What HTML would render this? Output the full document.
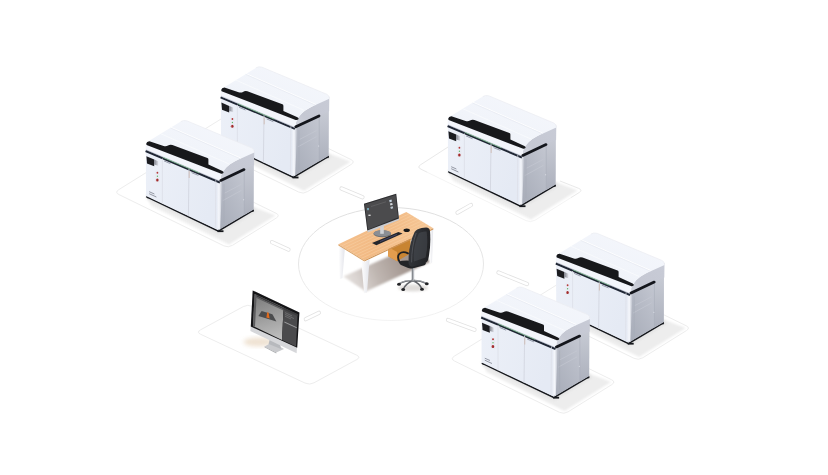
<!DOCTYPE html>
<html lang="en"><head><meta charset="utf-8"><title>Workstation and 3D printer fleet</title>
<style>
html,body{margin:0;padding:0;background:#fff;font-family:"Liberation Sans",sans-serif}
body{width:828px;height:475px;overflow:hidden}
svg{display:block}
</style></head><body>
<svg width="828" height="475" viewBox="0 0 828 475" role="img" aria-label="Isometric workstation connected to five 3D printers and a computer">
<defs>
<filter id="b3" x="-20%" y="-20%" width="140%" height="140%"><feGaussianBlur stdDeviation="2.2"/></filter>
<filter id="b07" x="-10%" y="-10%" width="120%" height="120%"><feGaussianBlur stdDeviation="0.7"/></filter>
<filter id="b1" x="-20%" y="-20%" width="140%" height="140%"><feGaussianBlur stdDeviation="1"/></filter>
<filter id="b5" x="-30%" y="-30%" width="160%" height="160%"><feGaussianBlur stdDeviation="3.5"/></filter>
<linearGradient id="gf" x1="0" y1="0" x2="1" y2="0.3"><stop offset="0" stop-color="#ecf0f8"/><stop offset="1" stop-color="#e5eaf4"/></linearGradient>
<linearGradient id="gr" x1="0" y1="1" x2="1" y2="0"><stop offset="0" stop-color="#a6abb7"/><stop offset="0.55" stop-color="#b9bdc8"/><stop offset="1" stop-color="#cbced7"/></linearGradient>
<linearGradient id="gc" x1="0" y1="0" x2="1" y2="0"><stop offset="0" stop-color="#e6eaf3"/><stop offset="0.45" stop-color="#f5f7fc"/><stop offset="1" stop-color="#b9bdc8"/></linearGradient>
<linearGradient id="gsd" x1="0" y1="0" x2="1" y2="0"><stop offset="0" stop-color="#7f828c"/><stop offset="1" stop-color="#dcdee6"/></linearGradient>
<linearGradient id="gp" x1="0" y1="1" x2="0" y2="0"><stop offset="0" stop-color="#adb1bd"/><stop offset="1" stop-color="#cdd0d9"/></linearGradient>
<linearGradient id="gls" x1="0" y1="1" x2="1" y2="0"><stop offset="0" stop-color="#d2d5de"/><stop offset="0.3" stop-color="#c5c8d3"/><stop offset="1" stop-color="#c8cbd6"/></linearGradient>
<linearGradient id="gt" x1="1" y1="0" x2="0.2" y2="1"><stop offset="0" stop-color="#f5f7fc"/><stop offset="0.6" stop-color="#f1f4fa"/><stop offset="1" stop-color="#ecf0f7"/></linearGradient>
<linearGradient id="wood" x1="0" y1="0" x2="1" y2="0.2"><stop offset="0" stop-color="#f5c290"/><stop offset=".5" stop-color="#f2ba84"/><stop offset="1" stop-color="#f6c797"/></linearGradient>
<linearGradient id="dsh" gradientUnits="userSpaceOnUse" x1="420" y1="252" x2="346" y2="284"><stop offset="0" stop-color="#988b85"/><stop offset=".3" stop-color="#a89c96"/><stop offset=".6" stop-color="#bfb6b1"/><stop offset=".85" stop-color="#dad4d1"/><stop offset="1" stop-color="#e6e1de"/></linearGradient>
<linearGradient id="gel" x1="0" y1="0" x2="0" y2="1"><stop offset="0" stop-color="#dfdfdf"/><stop offset=".5" stop-color="#e6e6e6"/><stop offset="1" stop-color="#f3f3f3"/></linearGradient>
<linearGradient id="leg" x1="0" y1="0" x2="1" y2="0"><stop offset="0" stop-color="#ffffff"/><stop offset="1" stop-color="#e3e4ea"/></linearGradient>
<linearGradient id="scr" x1="0.3" y1="0" x2="0.5" y2="1"><stop offset="0" stop-color="#7c7c7c"/><stop offset="1" stop-color="#bcbcbc"/></linearGradient>
<linearGradient id="chb" x1="0" y1="0" x2="1" y2="0.3"><stop offset="0" stop-color="#3a3c41"/><stop offset=".5" stop-color="#2d2f33"/><stop offset="1" stop-color="#222326"/></linearGradient>
</defs>
<rect width="828" height="475" fill="#ffffff"/>

<g id="floor">
<ellipse cx="391" cy="264" rx="92.5" ry="56.5" fill="none" stroke="url(#gel)" stroke-width="1"/>
<path d="M119.0 194.6 Q114.5 192.4 118.7 189.7 L162.4 162.5 Q166.6 159.8 171.1 162.0 L275.9 213.2 Q280.4 215.4 276.2 218.1 L232.5 245.3 Q228.3 248.0 223.8 245.8 Z" fill="none" stroke="#ededed" stroke-width="1"/>
<path d="M194.0 140.9 Q189.5 138.7 193.7 136.0 L237.4 108.8 Q241.6 106.1 246.1 108.3 L350.9 159.5 Q355.4 161.7 351.2 164.4 L307.5 191.6 Q303.3 194.3 298.8 192.1 Z" fill="none" stroke="#ededed" stroke-width="1"/>
<path d="M427.5 172.4 L421 169.2 Q416.9 167.2 420.4 164.9 L462 138" fill="none" stroke="#e9e9e9" stroke-width="1"/>
<path d="M560 181 L578.8 188.4 Q582.8 190.2 579.4 192.4 L571 197.6" fill="none" stroke="#e9e9e9" stroke-width="1"/>
<path d="M427.5 172.4 L526 220.6 Q530.7 222.8 535 220.2 L571 197.6" fill="none" stroke="#f4f4f4" stroke-width="1"/>
<path d="M454.6 361.1 Q450.1 358.9 454.3 356.2 L498.0 329.0 Q502.2 326.3 506.7 328.5 L611.5 379.7 Q616.0 381.9 611.8 384.6 L568.1 411.8 Q563.9 414.5 559.4 412.3 Z" fill="none" stroke="#ededed" stroke-width="1"/>
<path d="M529.2 307.1 Q524.7 304.9 528.9 302.2 L572.6 275.0 Q576.8 272.3 581.3 274.5 L686.1 325.7 Q690.6 327.9 686.4 330.6 L642.7 357.8 Q638.5 360.5 634.0 358.3 Z" fill="none" stroke="#ededed" stroke-width="1"/>
<path d="M200.7 334.3 Q196.2 332.2 200.6 329.8 L243.3 306.6 Q247.7 304.2 252.2 306.3 L356.6 355.1 Q361.1 357.2 356.7 359.6 L314.0 382.8 Q309.6 385.2 305.1 383.1 Z" fill="none" stroke="#ededed" stroke-width="1"/>
<path d="M341.5 188.5 L362.5 197.2" stroke="#e2e2e2" stroke-width="4.2" stroke-linecap="round" fill="none"/><path d="M341.5 188.5 L362.5 197.2" stroke="#ffffff" stroke-width="2.6" stroke-linecap="round" fill="none"/>
<path d="M457.5 212.6 L471.0 205.0" stroke="#e2e2e2" stroke-width="4.2" stroke-linecap="round" fill="none"/><path d="M457.5 212.6 L471.0 205.0" stroke="#ffffff" stroke-width="2.6" stroke-linecap="round" fill="none"/>
<path d="M272.0 242.2 L288.5 249.6" stroke="#e2e2e2" stroke-width="4.2" stroke-linecap="round" fill="none"/><path d="M272.0 242.2 L288.5 249.6" stroke="#ffffff" stroke-width="2.6" stroke-linecap="round" fill="none"/>
<path d="M498.5 272.5 L527.0 284.0" stroke="#e2e2e2" stroke-width="4.2" stroke-linecap="round" fill="none"/><path d="M498.5 272.5 L527.0 284.0" stroke="#ffffff" stroke-width="2.6" stroke-linecap="round" fill="none"/>
<path d="M305.8 319.2 L318.8 312.8" stroke="#e2e2e2" stroke-width="4.2" stroke-linecap="round" fill="none"/><path d="M305.8 319.2 L318.8 312.8" stroke="#ffffff" stroke-width="2.6" stroke-linecap="round" fill="none"/>
<path d="M448.0 320.0 L474.5 329.8" stroke="#e2e2e2" stroke-width="4.2" stroke-linecap="round" fill="none"/><path d="M448.0 320.0 L474.5 329.8" stroke="#ffffff" stroke-width="2.6" stroke-linecap="round" fill="none"/>
</g>
<g transform="translate(75.0,-53.7)">
<polygon points="146.0,195.0 151.0,205.5 229.0,244.5 275.5,215.5 253.5,207.0 218.4,228.0" fill="#ededed" filter="url(#b1)"/>
<polygon points="146.0,195.0 147.0,199.5 218.6,234.5 256.5,211.5 253.5,207.0 218.4,228.0" fill="#e2e2e2" opacity=".8" filter="url(#b1)"/>
<path d="M146.2 196.6 L218.3 230.9 L253.6 209.9" fill="none" stroke="#15171c" stroke-width="1.7" stroke-linejoin="round"/>
<rect x="217.5" y="230.3" width="6" height="1.8" fill="#15171c"/>
<rect x="250.6" y="209.6" width="3" height="2.2" fill="#15171c"/>
<rect x="147" y="196.6" width="3" height="1.6" fill="#15171c"/>
<polygon points="145.9,150.0 220.4,182.0 218.4,230.2 146.0,196.0" fill="url(#gf)"/>
<polygon points="220.4,181.0 244.0,169.0 253.7,164.0 253.5,209.4 218.4,230.2" fill="url(#gr)"/>
<polygon points="244.2,160.0 253.7,152.0 253.5,209.4 244.2,215.0" fill="url(#gp)"/>
<path d="M244.2 170 L244.2 214.8" stroke="#a8adb9" stroke-width=".6"/>
<polygon points="217.2,180.6 222.2,181.4 220.2,229.6 216.6,228.6" fill="url(#gc)"/>
<path d="M222.8 200.6 L241.4 190.4 M224.5 193.2 L241.4 184.3" stroke="#c6cad3" stroke-width=".6" fill="none"/>
<path d="M224 184 L224 223" stroke="#a4a9b5" stroke-width=".5" fill="none"/>
<circle cx="243.7" cy="199.8" r=".5" fill="#e8eaf0"/>
<path d="M254.3 150.5 L254.1 165 L244 169.6 L220.6 180.4 L220.9 175.6 Q224 167 234.5 161.6 Z" fill="url(#gls)"/>
<path d="M146 144.2 L146.4 142.6 L180.8 121.6 Q183.6 119.8 187 120.9 L251.8 148 Q254.6 149.3 254.3 152.4 L236 160.8 Q225 166 221.4 175.4 L146 145.4 Z" fill="url(#gt)"/>
<path d="M170.8 127.2 L240.5 158" stroke="#ffffff" stroke-width=".9" fill="none"/>
<path d="M170.6 128 L240.3 158.8" stroke="#e4e8f0" stroke-width=".6" fill="none"/>
<path d="M160.5 133.6 L229 164" stroke="#fbfcfe" stroke-width=".7" fill="none"/>
<path d="M180.8 121.6 Q183.6 119.8 187 120.9 L251.8 148 Q254.6 149.3 254.3 152.4" stroke="#eceef3" stroke-width=".8" fill="none"/>
<polygon points="145.8,144.4 221.2,174.6 220.4,182.4 145.6,151.2" fill="#f3f5fb"/>
<path d="M145.6 151 L219.9 182.5" stroke="#1f2634" stroke-width="2" fill="none"/>
<path d="M162.8 157.3 L199.4 172.9" stroke="#7fd08d" stroke-width=".8" fill="none"/>
<path d="M146 149.8 L220 181.2" stroke="#aab0c0" stroke-width=".7" fill="none" opacity=".7"/>
<path d="M220.8 180.4 L244 169.6" stroke="#14161c" stroke-width="2.8" fill="none" stroke-linecap="round"/>
<path d="M146.2 143.7 Q146.6 141.2 149.4 141.2 L163.6 146 Q166.2 146.6 168 145.6 Q170 144.2 172.4 145 L207.4 158 Q208.4 158.4 208.4 159.6 L208.4 164.6 L222.4 171 Q224.2 171.9 223.4 173 Q222.4 174.2 220.6 173.6 L146.6 144.9 Z" fill="#17181b"/>
<polygon points="146.4,156.3 154.2,159.6 154.2,166.2 147.0,163.4" fill="#1b1c20"/>
<polygon points="154.2,159.6 158.2,161.2 158.2,165.8 154.2,164.6" fill="url(#gsd)"/>
<circle cx="157.4" cy="172.8" r="1" fill="#b53a3a"/>
<circle cx="157.4" cy="176.2" r=".7" fill="#5fb86a"/>
<circle cx="157.3" cy="180" r="1.5" fill="#a32929"/>
<path d="M156 170.6 L156 182 M158.9 171.4 L158.9 182.6" stroke="#e1e3ea" stroke-width=".5"/>
<path d="M162.4 158.5 L162.4 203.8" stroke="#dcdee7" stroke-width=".8"/>
<path d="M189 169 L188.4 216.2" stroke="#d3d6e0" stroke-width=".9"/>
<path d="M189.2 171 L189.2 178" stroke="#c9a999" stroke-width=".6"/>
<path d="M215.8 180 L215.4 228" stroke="#dcdee7" stroke-width=".7"/>
<path d="M164 160.9 L170.5 163.7 M191.6 172.6 L198.4 175.4" stroke="#8d93a3" stroke-width=".9"/>
<path d="M149.2 191.7 L154.4 194 M149.2 193.7 L156.4 197" stroke="#7e828e" stroke-width=".8"/>
</g>
<g transform="translate(0.0,0.0)">
<polygon points="146.0,195.0 151.0,205.5 229.0,244.5 275.5,215.5 253.5,207.0 218.4,228.0" fill="#ededed" filter="url(#b1)"/>
<polygon points="146.0,195.0 147.0,199.5 218.6,234.5 256.5,211.5 253.5,207.0 218.4,228.0" fill="#e2e2e2" opacity=".8" filter="url(#b1)"/>
<path d="M146.2 196.6 L218.3 230.9 L253.6 209.9" fill="none" stroke="#15171c" stroke-width="1.7" stroke-linejoin="round"/>
<rect x="217.5" y="230.3" width="6" height="1.8" fill="#15171c"/>
<rect x="250.6" y="209.6" width="3" height="2.2" fill="#15171c"/>
<rect x="147" y="196.6" width="3" height="1.6" fill="#15171c"/>
<polygon points="145.9,150.0 220.4,182.0 218.4,230.2 146.0,196.0" fill="url(#gf)"/>
<polygon points="220.4,181.0 244.0,169.0 253.7,164.0 253.5,209.4 218.4,230.2" fill="url(#gr)"/>
<polygon points="244.2,160.0 253.7,152.0 253.5,209.4 244.2,215.0" fill="url(#gp)"/>
<path d="M244.2 170 L244.2 214.8" stroke="#a8adb9" stroke-width=".6"/>
<polygon points="217.2,180.6 222.2,181.4 220.2,229.6 216.6,228.6" fill="url(#gc)"/>
<path d="M222.8 200.6 L241.4 190.4 M224.5 193.2 L241.4 184.3" stroke="#c6cad3" stroke-width=".6" fill="none"/>
<path d="M224 184 L224 223" stroke="#a4a9b5" stroke-width=".5" fill="none"/>
<circle cx="243.7" cy="199.8" r=".5" fill="#e8eaf0"/>
<path d="M254.3 150.5 L254.1 165 L244 169.6 L220.6 180.4 L220.9 175.6 Q224 167 234.5 161.6 Z" fill="url(#gls)"/>
<path d="M146 144.2 L146.4 142.6 L180.8 121.6 Q183.6 119.8 187 120.9 L251.8 148 Q254.6 149.3 254.3 152.4 L236 160.8 Q225 166 221.4 175.4 L146 145.4 Z" fill="url(#gt)"/>
<path d="M170.8 127.2 L240.5 158" stroke="#ffffff" stroke-width=".9" fill="none"/>
<path d="M170.6 128 L240.3 158.8" stroke="#e4e8f0" stroke-width=".6" fill="none"/>
<path d="M160.5 133.6 L229 164" stroke="#fbfcfe" stroke-width=".7" fill="none"/>
<path d="M180.8 121.6 Q183.6 119.8 187 120.9 L251.8 148 Q254.6 149.3 254.3 152.4" stroke="#eceef3" stroke-width=".8" fill="none"/>
<polygon points="145.8,144.4 221.2,174.6 220.4,182.4 145.6,151.2" fill="#f3f5fb"/>
<path d="M145.6 151 L219.9 182.5" stroke="#1f2634" stroke-width="2" fill="none"/>
<path d="M162.8 157.3 L199.4 172.9" stroke="#7fd08d" stroke-width=".8" fill="none"/>
<path d="M146 149.8 L220 181.2" stroke="#aab0c0" stroke-width=".7" fill="none" opacity=".7"/>
<path d="M220.8 180.4 L244 169.6" stroke="#14161c" stroke-width="2.8" fill="none" stroke-linecap="round"/>
<path d="M146.2 143.7 Q146.6 141.2 149.4 141.2 L163.6 146 Q166.2 146.6 168 145.6 Q170 144.2 172.4 145 L207.4 158 Q208.4 158.4 208.4 159.6 L208.4 164.6 L222.4 171 Q224.2 171.9 223.4 173 Q222.4 174.2 220.6 173.6 L146.6 144.9 Z" fill="#17181b"/>
<polygon points="146.4,156.3 154.2,159.6 154.2,166.2 147.0,163.4" fill="#1b1c20"/>
<polygon points="154.2,159.6 158.2,161.2 158.2,165.8 154.2,164.6" fill="url(#gsd)"/>
<circle cx="157.4" cy="172.8" r="1" fill="#b53a3a"/>
<circle cx="157.4" cy="176.2" r=".7" fill="#5fb86a"/>
<circle cx="157.3" cy="180" r="1.5" fill="#a32929"/>
<path d="M156 170.6 L156 182 M158.9 171.4 L158.9 182.6" stroke="#e1e3ea" stroke-width=".5"/>
<path d="M162.4 158.5 L162.4 203.8" stroke="#dcdee7" stroke-width=".8"/>
<path d="M189 169 L188.4 216.2" stroke="#d3d6e0" stroke-width=".9"/>
<path d="M189.2 171 L189.2 178" stroke="#c9a999" stroke-width=".6"/>
<path d="M215.8 180 L215.4 228" stroke="#dcdee7" stroke-width=".7"/>
<path d="M164 160.9 L170.5 163.7 M191.6 172.6 L198.4 175.4" stroke="#8d93a3" stroke-width=".9"/>
<path d="M149.2 191.7 L154.4 194 M149.2 193.7 L156.4 197" stroke="#7e828e" stroke-width=".8"/>
</g>
<g transform="translate(302.0,-25.0)">
<polygon points="146.0,195.0 151.0,205.5 229.0,244.5 275.5,215.5 253.5,207.0 218.4,228.0" fill="#ededed" filter="url(#b1)"/>
<polygon points="146.0,195.0 147.0,199.5 218.6,234.5 256.5,211.5 253.5,207.0 218.4,228.0" fill="#e2e2e2" opacity=".8" filter="url(#b1)"/>
<path d="M146.2 196.6 L218.3 230.9 L253.6 209.9" fill="none" stroke="#15171c" stroke-width="1.7" stroke-linejoin="round"/>
<rect x="217.5" y="230.3" width="6" height="1.8" fill="#15171c"/>
<rect x="250.6" y="209.6" width="3" height="2.2" fill="#15171c"/>
<rect x="147" y="196.6" width="3" height="1.6" fill="#15171c"/>
<polygon points="145.9,150.0 220.4,182.0 218.4,230.2 146.0,196.0" fill="url(#gf)"/>
<polygon points="220.4,181.0 244.0,169.0 253.7,164.0 253.5,209.4 218.4,230.2" fill="url(#gr)"/>
<polygon points="244.2,160.0 253.7,152.0 253.5,209.4 244.2,215.0" fill="url(#gp)"/>
<path d="M244.2 170 L244.2 214.8" stroke="#a8adb9" stroke-width=".6"/>
<polygon points="217.2,180.6 222.2,181.4 220.2,229.6 216.6,228.6" fill="url(#gc)"/>
<path d="M222.8 200.6 L241.4 190.4 M224.5 193.2 L241.4 184.3" stroke="#c6cad3" stroke-width=".6" fill="none"/>
<path d="M224 184 L224 223" stroke="#a4a9b5" stroke-width=".5" fill="none"/>
<circle cx="243.7" cy="199.8" r=".5" fill="#e8eaf0"/>
<path d="M254.3 150.5 L254.1 165 L244 169.6 L220.6 180.4 L220.9 175.6 Q224 167 234.5 161.6 Z" fill="url(#gls)"/>
<path d="M146 144.2 L146.4 142.6 L180.8 121.6 Q183.6 119.8 187 120.9 L251.8 148 Q254.6 149.3 254.3 152.4 L236 160.8 Q225 166 221.4 175.4 L146 145.4 Z" fill="url(#gt)"/>
<path d="M170.8 127.2 L240.5 158" stroke="#ffffff" stroke-width=".9" fill="none"/>
<path d="M170.6 128 L240.3 158.8" stroke="#e4e8f0" stroke-width=".6" fill="none"/>
<path d="M160.5 133.6 L229 164" stroke="#fbfcfe" stroke-width=".7" fill="none"/>
<path d="M180.8 121.6 Q183.6 119.8 187 120.9 L251.8 148 Q254.6 149.3 254.3 152.4" stroke="#eceef3" stroke-width=".8" fill="none"/>
<polygon points="145.8,144.4 221.2,174.6 220.4,182.4 145.6,151.2" fill="#f3f5fb"/>
<path d="M145.6 151 L219.9 182.5" stroke="#1f2634" stroke-width="2" fill="none"/>
<path d="M162.8 157.3 L199.4 172.9" stroke="#7fd08d" stroke-width=".8" fill="none"/>
<path d="M146 149.8 L220 181.2" stroke="#aab0c0" stroke-width=".7" fill="none" opacity=".7"/>
<path d="M220.8 180.4 L244 169.6" stroke="#14161c" stroke-width="2.8" fill="none" stroke-linecap="round"/>
<path d="M146.2 143.7 Q146.6 141.2 149.4 141.2 L163.6 146 Q166.2 146.6 168 145.6 Q170 144.2 172.4 145 L207.4 158 Q208.4 158.4 208.4 159.6 L208.4 164.6 L222.4 171 Q224.2 171.9 223.4 173 Q222.4 174.2 220.6 173.6 L146.6 144.9 Z" fill="#17181b"/>
<polygon points="146.4,156.3 154.2,159.6 154.2,166.2 147.0,163.4" fill="#1b1c20"/>
<polygon points="154.2,159.6 158.2,161.2 158.2,165.8 154.2,164.6" fill="url(#gsd)"/>
<circle cx="157.4" cy="172.8" r="1" fill="#b53a3a"/>
<circle cx="157.4" cy="176.2" r=".7" fill="#5fb86a"/>
<circle cx="157.3" cy="180" r="1.5" fill="#a32929"/>
<path d="M156 170.6 L156 182 M158.9 171.4 L158.9 182.6" stroke="#e1e3ea" stroke-width=".5"/>
<path d="M162.4 158.5 L162.4 203.8" stroke="#dcdee7" stroke-width=".8"/>
<path d="M189 169 L188.4 216.2" stroke="#d3d6e0" stroke-width=".9"/>
<path d="M189.2 171 L189.2 178" stroke="#c9a999" stroke-width=".6"/>
<path d="M215.8 180 L215.4 228" stroke="#dcdee7" stroke-width=".7"/>
<path d="M164 160.9 L170.5 163.7 M191.6 172.6 L198.4 175.4" stroke="#8d93a3" stroke-width=".9"/>
<path d="M149.2 191.7 L154.4 194 M149.2 193.7 L156.4 197" stroke="#7e828e" stroke-width=".8"/>
</g>
<g id="desk">
<polygon points="343.4,276.6 365.8,291.6 431.0,261.6 410.0,247.0" fill="url(#dsh)" filter="url(#b1)"/>
<polygon points="429.6,230.6 433.2,229.0 432.0,262.6 429.6,263.6" fill="url(#leg)"/>
<polygon points="388.1,247.0 410.6,238.0 410.6,253.3 397.1,261.3 388.1,256.2" fill="#c88432"/>
<polygon points="388.1,247.0 397.1,252.0 397.1,261.3 388.1,256.2" fill="#e39d4e"/>
<polygon points="338.4,245.0 344.8,249.0 342.4,278.2 339.8,279.0" fill="url(#leg)"/>
<polygon points="338.4,244.2 406.3,211.9 433.3,228.2 364.3,260.2" fill="url(#wood)"/>
<path d="M341.3 246.0 L409.3 213.7" stroke="#fad6ae" stroke-width=".55" opacity=".75"/>
<path d="M344.2 247.8 L412.3 215.5" stroke="#fad6ae" stroke-width=".55" opacity=".75"/>
<path d="M347.0 249.5 L415.3 217.3" stroke="#fad6ae" stroke-width=".55" opacity=".75"/>
<path d="M349.9 251.3 L418.3 219.1" stroke="#fad6ae" stroke-width=".55" opacity=".75"/>
<path d="M352.8 253.1 L421.3 221.0" stroke="#fad6ae" stroke-width=".55" opacity=".75"/>
<path d="M355.7 254.9 L424.3 222.8" stroke="#fad6ae" stroke-width=".55" opacity=".75"/>
<path d="M358.5 256.6 L427.3 224.6" stroke="#fad6ae" stroke-width=".55" opacity=".75"/>
<path d="M361.4 258.4 L430.3 226.4" stroke="#fad6ae" stroke-width=".55" opacity=".75"/>
<polygon points="338.4,244.2 364.3,260.2 364.3,261.4 338.4,245.4" fill="#dba469"/>
<polygon points="364.3,260.2 433.3,228.2 433.3,229.4 364.3,261.4" fill="#cf9558"/>
<polygon points="361.2,260.0 364.3,262.0 369.6,259.6 367.0,292.4 364.1,292.8" fill="url(#leg)"/>
<ellipse cx="382.3" cy="233.8" rx="8.9" ry="3.5" fill="#6f7277"/>
<ellipse cx="382.3" cy="233.2" rx="8.5" ry="3" fill="#8b8e94"/>
<rect x="380.2" y="226" width="3.6" height="7.8" fill="#cfd1d6"/>
<polygon points="364.0,203.8 396.2,193.8 399.2,220.0 367.6,232.4" fill="#c9cbd0"/>
<polygon points="364.0,203.8 396.2,193.8 398.9,218.4 367.3,230.6" fill="#2c2c2e"/>
<polygon points="365.0,204.6 395.6,195.0 398.0,217.6 368.0,229.4" fill="#4b4b4d"/>
<rect x="389.4" y="200" width="2.4" height="2" fill="#c8d6e2" transform="rotate(-17 390 201)"/>
<rect x="390" y="203.6" width="2.4" height="2" fill="#d7dbe0" transform="rotate(-17 390 204)"/>
<rect x="390.6" y="207.2" width="2.4" height="2" fill="#b9c5cf" transform="rotate(-17 390 208)"/>
<rect x="367.2" y="208" width="1.6" height="2.2" fill="#7fb7c9"/>
<rect x="368.4" y="214.6" width="2.2" height="1.4" fill="#d9d9d9"/>
<path d="M371 206.5 L386 201.8" stroke="#6a6a6c" stroke-width=".6"/>
<polygon points="372.0,243.0 398.4,232.0 402.6,233.6 376.4,245.2" fill="#25262b"/>
<path d="M380 241.6 L397 234.4" stroke="#4a4d7a" stroke-width=".8"/>
<ellipse cx="406.7" cy="230.2" rx="3.2" ry="1.8" fill="#17181a"/>
</g>
<g id="chair">
<ellipse cx="413" cy="288" rx="15" ry="3.6" fill="#d4d0cd" opacity=".7" filter="url(#b1)"/>
<path d="M412.8 280.6 Q405 280.6 399.4 283.6 M412.8 280.8 Q406.4 283 403.4 289 M412.8 280.8 Q419.4 283 421.8 288.6 M412.8 280.6 Q420.6 280.4 426.2 283.4" stroke="#5f6267" stroke-width="1.5" stroke-linecap="round" fill="none"/>
<path d="M412.8 280.2 Q405 280 399.6 283 M412.8 280.2 Q420.6 280 426 282.8" stroke="#c3c6cb" stroke-width=".6" stroke-linecap="round" fill="none"/>
<ellipse cx="399" cy="284.2" rx="1.9" ry="1.5" fill="#222326"/>
<ellipse cx="403.2" cy="289.6" rx="1.9" ry="1.5" fill="#222326"/>
<ellipse cx="422" cy="289.2" rx="1.9" ry="1.5" fill="#222326"/>
<ellipse cx="426.8" cy="283.8" rx="1.9" ry="1.5" fill="#222326"/>
<ellipse cx="412.9" cy="280.8" rx="2.2" ry="1.3" fill="#7d8085"/>
<rect x="411.8" y="267.5" width="2.4" height="13" fill="#b9bcc1"/>
<rect x="411.8" y="267.5" width="1" height="13" fill="#7b7e83"/>
<path d="M399.4 262.6 Q399.6 260.6 402.4 260.8 L407 260.6 L424.6 262.6 Q427.4 263.6 424.4 265.2 L412.2 268.4 Q409.8 268.8 407.6 267.8 L401 265 Q399.4 264.2 399.4 262.6 Z" fill="#232427"/>
<path d="M414.6 232 Q416.4 229 421.6 228 L426.2 227.6 Q429.6 227.6 430 231.2 Q431.2 246 428.2 259.6 Q427.4 262.8 423 264 L412.8 266.6 Q409.4 267 408.6 263.6 Q408 246 414.6 232 Z" fill="url(#chb)"/>
<path d="M419 233 Q423 231 426.6 231.6 Q428.4 245 425.6 257.6 L414 261.4 Q412.4 247 419 233 Z" fill="#4a4d52" opacity=".55" filter="url(#b07)"/>
<path d="M416.2 233 Q411.6 246 411.6 262.4" stroke="#5b5e64" stroke-width=".7" fill="none"/>
<path d="M399.8 262.4 Q396.4 256.6 399.6 253.6 Q403 250.8 408 253.4" stroke="#1f2023" stroke-width="1.8" fill="none" stroke-linecap="round"/>
</g>
<g transform="translate(410.2,112.5)">
<polygon points="146.0,195.0 151.0,205.5 229.0,244.5 275.5,215.5 253.5,207.0 218.4,228.0" fill="#ededed" filter="url(#b1)"/>
<polygon points="146.0,195.0 147.0,199.5 218.6,234.5 256.5,211.5 253.5,207.0 218.4,228.0" fill="#e2e2e2" opacity=".8" filter="url(#b1)"/>
<path d="M146.2 196.6 L218.3 230.9 L253.6 209.9" fill="none" stroke="#15171c" stroke-width="1.7" stroke-linejoin="round"/>
<rect x="217.5" y="230.3" width="6" height="1.8" fill="#15171c"/>
<rect x="250.6" y="209.6" width="3" height="2.2" fill="#15171c"/>
<rect x="147" y="196.6" width="3" height="1.6" fill="#15171c"/>
<polygon points="145.9,150.0 220.4,182.0 218.4,230.2 146.0,196.0" fill="url(#gf)"/>
<polygon points="220.4,181.0 244.0,169.0 253.7,164.0 253.5,209.4 218.4,230.2" fill="url(#gr)"/>
<polygon points="244.2,160.0 253.7,152.0 253.5,209.4 244.2,215.0" fill="url(#gp)"/>
<path d="M244.2 170 L244.2 214.8" stroke="#a8adb9" stroke-width=".6"/>
<polygon points="217.2,180.6 222.2,181.4 220.2,229.6 216.6,228.6" fill="url(#gc)"/>
<path d="M222.8 200.6 L241.4 190.4 M224.5 193.2 L241.4 184.3" stroke="#c6cad3" stroke-width=".6" fill="none"/>
<path d="M224 184 L224 223" stroke="#a4a9b5" stroke-width=".5" fill="none"/>
<circle cx="243.7" cy="199.8" r=".5" fill="#e8eaf0"/>
<path d="M254.3 150.5 L254.1 165 L244 169.6 L220.6 180.4 L220.9 175.6 Q224 167 234.5 161.6 Z" fill="url(#gls)"/>
<path d="M146 144.2 L146.4 142.6 L180.8 121.6 Q183.6 119.8 187 120.9 L251.8 148 Q254.6 149.3 254.3 152.4 L236 160.8 Q225 166 221.4 175.4 L146 145.4 Z" fill="url(#gt)"/>
<path d="M170.8 127.2 L240.5 158" stroke="#ffffff" stroke-width=".9" fill="none"/>
<path d="M170.6 128 L240.3 158.8" stroke="#e4e8f0" stroke-width=".6" fill="none"/>
<path d="M160.5 133.6 L229 164" stroke="#fbfcfe" stroke-width=".7" fill="none"/>
<path d="M180.8 121.6 Q183.6 119.8 187 120.9 L251.8 148 Q254.6 149.3 254.3 152.4" stroke="#eceef3" stroke-width=".8" fill="none"/>
<polygon points="145.8,144.4 221.2,174.6 220.4,182.4 145.6,151.2" fill="#f3f5fb"/>
<path d="M145.6 151 L219.9 182.5" stroke="#1f2634" stroke-width="2" fill="none"/>
<path d="M162.8 157.3 L199.4 172.9" stroke="#7fd08d" stroke-width=".8" fill="none"/>
<path d="M146 149.8 L220 181.2" stroke="#aab0c0" stroke-width=".7" fill="none" opacity=".7"/>
<path d="M220.8 180.4 L244 169.6" stroke="#14161c" stroke-width="2.8" fill="none" stroke-linecap="round"/>
<path d="M146.2 143.7 Q146.6 141.2 149.4 141.2 L163.6 146 Q166.2 146.6 168 145.6 Q170 144.2 172.4 145 L207.4 158 Q208.4 158.4 208.4 159.6 L208.4 164.6 L222.4 171 Q224.2 171.9 223.4 173 Q222.4 174.2 220.6 173.6 L146.6 144.9 Z" fill="#17181b"/>
<polygon points="146.4,156.3 154.2,159.6 154.2,166.2 147.0,163.4" fill="#1b1c20"/>
<polygon points="154.2,159.6 158.2,161.2 158.2,165.8 154.2,164.6" fill="url(#gsd)"/>
<circle cx="157.4" cy="172.8" r="1" fill="#b53a3a"/>
<circle cx="157.4" cy="176.2" r=".7" fill="#5fb86a"/>
<circle cx="157.3" cy="180" r="1.5" fill="#a32929"/>
<path d="M156 170.6 L156 182 M158.9 171.4 L158.9 182.6" stroke="#e1e3ea" stroke-width=".5"/>
<path d="M162.4 158.5 L162.4 203.8" stroke="#dcdee7" stroke-width=".8"/>
<path d="M189 169 L188.4 216.2" stroke="#d3d6e0" stroke-width=".9"/>
<path d="M189.2 171 L189.2 178" stroke="#c9a999" stroke-width=".6"/>
<path d="M215.8 180 L215.4 228" stroke="#dcdee7" stroke-width=".7"/>
<path d="M164 160.9 L170.5 163.7 M191.6 172.6 L198.4 175.4" stroke="#8d93a3" stroke-width=".9"/>
<path d="M149.2 191.7 L154.4 194 M149.2 193.7 L156.4 197" stroke="#7e828e" stroke-width=".8"/>
</g>
<g transform="translate(335.6,166.5)">
<polygon points="146.0,195.0 151.0,205.5 229.0,244.5 275.5,215.5 253.5,207.0 218.4,228.0" fill="#ededed" filter="url(#b1)"/>
<polygon points="146.0,195.0 147.0,199.5 218.6,234.5 256.5,211.5 253.5,207.0 218.4,228.0" fill="#e2e2e2" opacity=".8" filter="url(#b1)"/>
<path d="M146.2 196.6 L218.3 230.9 L253.6 209.9" fill="none" stroke="#15171c" stroke-width="1.7" stroke-linejoin="round"/>
<rect x="217.5" y="230.3" width="6" height="1.8" fill="#15171c"/>
<rect x="250.6" y="209.6" width="3" height="2.2" fill="#15171c"/>
<rect x="147" y="196.6" width="3" height="1.6" fill="#15171c"/>
<polygon points="145.9,150.0 220.4,182.0 218.4,230.2 146.0,196.0" fill="url(#gf)"/>
<polygon points="220.4,181.0 244.0,169.0 253.7,164.0 253.5,209.4 218.4,230.2" fill="url(#gr)"/>
<polygon points="244.2,160.0 253.7,152.0 253.5,209.4 244.2,215.0" fill="url(#gp)"/>
<path d="M244.2 170 L244.2 214.8" stroke="#a8adb9" stroke-width=".6"/>
<polygon points="217.2,180.6 222.2,181.4 220.2,229.6 216.6,228.6" fill="url(#gc)"/>
<path d="M222.8 200.6 L241.4 190.4 M224.5 193.2 L241.4 184.3" stroke="#c6cad3" stroke-width=".6" fill="none"/>
<path d="M224 184 L224 223" stroke="#a4a9b5" stroke-width=".5" fill="none"/>
<circle cx="243.7" cy="199.8" r=".5" fill="#e8eaf0"/>
<path d="M254.3 150.5 L254.1 165 L244 169.6 L220.6 180.4 L220.9 175.6 Q224 167 234.5 161.6 Z" fill="url(#gls)"/>
<path d="M146 144.2 L146.4 142.6 L180.8 121.6 Q183.6 119.8 187 120.9 L251.8 148 Q254.6 149.3 254.3 152.4 L236 160.8 Q225 166 221.4 175.4 L146 145.4 Z" fill="url(#gt)"/>
<path d="M170.8 127.2 L240.5 158" stroke="#ffffff" stroke-width=".9" fill="none"/>
<path d="M170.6 128 L240.3 158.8" stroke="#e4e8f0" stroke-width=".6" fill="none"/>
<path d="M160.5 133.6 L229 164" stroke="#fbfcfe" stroke-width=".7" fill="none"/>
<path d="M180.8 121.6 Q183.6 119.8 187 120.9 L251.8 148 Q254.6 149.3 254.3 152.4" stroke="#eceef3" stroke-width=".8" fill="none"/>
<polygon points="145.8,144.4 221.2,174.6 220.4,182.4 145.6,151.2" fill="#f3f5fb"/>
<path d="M145.6 151 L219.9 182.5" stroke="#1f2634" stroke-width="2" fill="none"/>
<path d="M162.8 157.3 L199.4 172.9" stroke="#7fd08d" stroke-width=".8" fill="none"/>
<path d="M146 149.8 L220 181.2" stroke="#aab0c0" stroke-width=".7" fill="none" opacity=".7"/>
<path d="M220.8 180.4 L244 169.6" stroke="#14161c" stroke-width="2.8" fill="none" stroke-linecap="round"/>
<path d="M146.2 143.7 Q146.6 141.2 149.4 141.2 L163.6 146 Q166.2 146.6 168 145.6 Q170 144.2 172.4 145 L207.4 158 Q208.4 158.4 208.4 159.6 L208.4 164.6 L222.4 171 Q224.2 171.9 223.4 173 Q222.4 174.2 220.6 173.6 L146.6 144.9 Z" fill="#17181b"/>
<polygon points="146.4,156.3 154.2,159.6 154.2,166.2 147.0,163.4" fill="#1b1c20"/>
<polygon points="154.2,159.6 158.2,161.2 158.2,165.8 154.2,164.6" fill="url(#gsd)"/>
<circle cx="157.4" cy="172.8" r="1" fill="#b53a3a"/>
<circle cx="157.4" cy="176.2" r=".7" fill="#5fb86a"/>
<circle cx="157.3" cy="180" r="1.5" fill="#a32929"/>
<path d="M156 170.6 L156 182 M158.9 171.4 L158.9 182.6" stroke="#e1e3ea" stroke-width=".5"/>
<path d="M162.4 158.5 L162.4 203.8" stroke="#dcdee7" stroke-width=".8"/>
<path d="M189 169 L188.4 216.2" stroke="#d3d6e0" stroke-width=".9"/>
<path d="M189.2 171 L189.2 178" stroke="#c9a999" stroke-width=".6"/>
<path d="M215.8 180 L215.4 228" stroke="#dcdee7" stroke-width=".7"/>
<path d="M164 160.9 L170.5 163.7 M191.6 172.6 L198.4 175.4" stroke="#8d93a3" stroke-width=".9"/>
<path d="M149.2 191.7 L154.4 194 M149.2 193.7 L156.4 197" stroke="#7e828e" stroke-width=".8"/>
</g>
<g id="imac">
<ellipse cx="258.5" cy="342" rx="15" ry="4.5" fill="#ead9c4" opacity=".75" filter="url(#b3)"/>
<polygon points="264.5,346.4 272.1,342.2 284.0,349.0 276.3,352.6" fill="#c9cacd"/>
<polygon points="264.5,346.4 276.3,352.6 276.3,353.4 264.5,347.2" fill="#a9abae"/>
<polygon points="270.0,338.0 280.0,343.0 281.0,349.0 268.6,344.0" fill="#b7b9bd"/>
<polygon points="252.7,290.4 299.4,312.4 296.6,353.2 250.4,331.0" fill="#d6d7da"/>
<polygon points="252.7,290.4 299.4,312.4 297.2,347.8 250.8,326.6" fill="#141416"/>
<polygon points="254.6,294.0 283.6,307.6 282.0,340.0 253.0,326.0" fill="url(#scr)"/>
<polygon points="283.6,307.6 297.6,314.2 296.0,346.4 282.0,340.0" fill="#4a4a4c"/>
<polygon points="254.6,294.0 297.6,314.2 297.5,316.0 254.5,295.8" fill="#3a3a3c"/>
<polygon points="254.5,295.8 283.5,309.4 283.4,310.6 254.4,297.0" fill="#5a5a5c"/>
<polygon points="284.4,321.4 296.8,327.2 296.7,328.2 284.3,322.4" fill="#9a9a9c"/>
<polygon points="254.6,294.0 256.6,295.0 255.0,327.0 253.0,326.0" fill="#5c5c5e"/>
<path d="M285 312.6 L292 315.9 M285 314.4 L294 318.6 M285 316.2 L291 319" stroke="#8a8a8c" stroke-width=".5"/>
<polygon points="261.6,311.0 272.4,314.2 276.4,321.6 258.4,316.0" fill="#4b4c4e"/>
<path d="M266.4 317.4 L267.2 312.2 L268.6 312.4 L269.6 318.4 Z" fill="#e06a1c"/>
</g>
</svg>
</body></html>
